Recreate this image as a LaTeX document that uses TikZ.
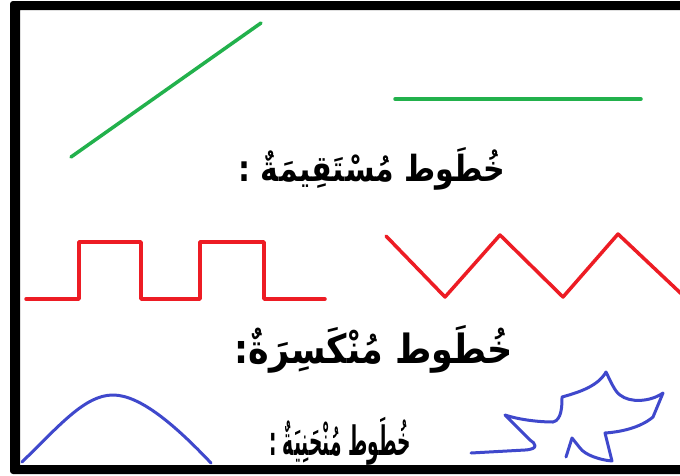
\documentclass[tikz,border=0pt]{standalone}
\usepackage{fontspec}
\TeXXeTstate=1
\newfontfamily\arabicfont[Script=Arabic]{DejaVu Sans}
\definecolor{pgreen}{HTML}{22B14C}
\definecolor{pred}{HTML}{ED1C24}
\definecolor{pblue}{HTML}{3F48CC}
\tikzset{
  greenline/.style={draw=pgreen,line width=3.5pt,line cap=round,line join=round},
  redline/.style={draw=pred,line width=3.5pt,line cap=round,line join=round},
  blueline/.style={draw=pblue,line width=3pt,line cap=round,line join=round},
  label/.style={inner sep=0pt,text=black,font=\arabicfont\bfseries}
}
\begin{document}
\begin{tikzpicture}[x=1pt,y=-1pt]
\useasboundingbox (0,0) rectangle (680,475);
\fill[white] (0,0) rectangle (680,475);
% green straight lines
\draw[greenline] (71,157) -- (261,23);
\draw[greenline] (395,99) -- (641,99);
% red broken lines
\draw[redline] (26,299) -- (79,299) -- (79,242) -- (141,242) -- (141,299) -- (200,299) -- (200,242) -- (264,242) -- (264,299) -- (325,299);
\draw[redline] (386,236) -- (445,297) -- (500,235) -- (563,297) -- (618,234) -- (690,302);
% blue curves
\draw[blueline] (22,462) .. controls (60,425) and (85,395) .. (113,395) .. controls (140,395) and (175,425) .. (211,463);
\draw[blueline] (471,453) -- (525,450) .. controls (540,449) and (535,443) .. (530,440)
  -- (505,415) .. controls (520,420) and (540,422) .. (553,422)
  .. controls (562,420) and (562,405) .. (562,397)
  .. controls (580,392) and (598,386) .. (606,372)
  .. controls (610,380) and (615,392) .. (620,395)
  .. controls (630,403) and (650,402) .. (663,393)
  -- (653,417) .. controls (640,428) and (620,432) .. (605,433)
  -- (612,461) .. controls (600,460) and (585,455) .. (580,448)
  -- (572,438) -- (566,457);
% texts
\node[label,font=\arabicfont\bfseries\fontsize{30}{34}\selectfont] (t1) at (372,169) {\scalebox{1}[1.2]{\beginR خُطَوط مُسْتَقِيمَةٌ :\endR}};
\node[label,font=\arabicfont\bfseries\fontsize{35}{40}\selectfont] (t2) at (374,349) {\scalebox{1}[1.15]{\beginR خُطَوط مُنْكَسِرَةٌ:\endR}};
\node[label,font=\arabicfont\bfseries\fontsize{30}{34}\selectfont] (t3) at (340,441) {\scalebox{0.62}[1.35]{\beginR خُطَوط مُنْحَنِيَةٌ :\endR}};
% frame
\fill[black,even odd rule,rounded corners=3pt] (10,1) rectangle (700,474) (20,10) [sharp corners] rectangle (700,465);
\end{tikzpicture}
\end{document}
